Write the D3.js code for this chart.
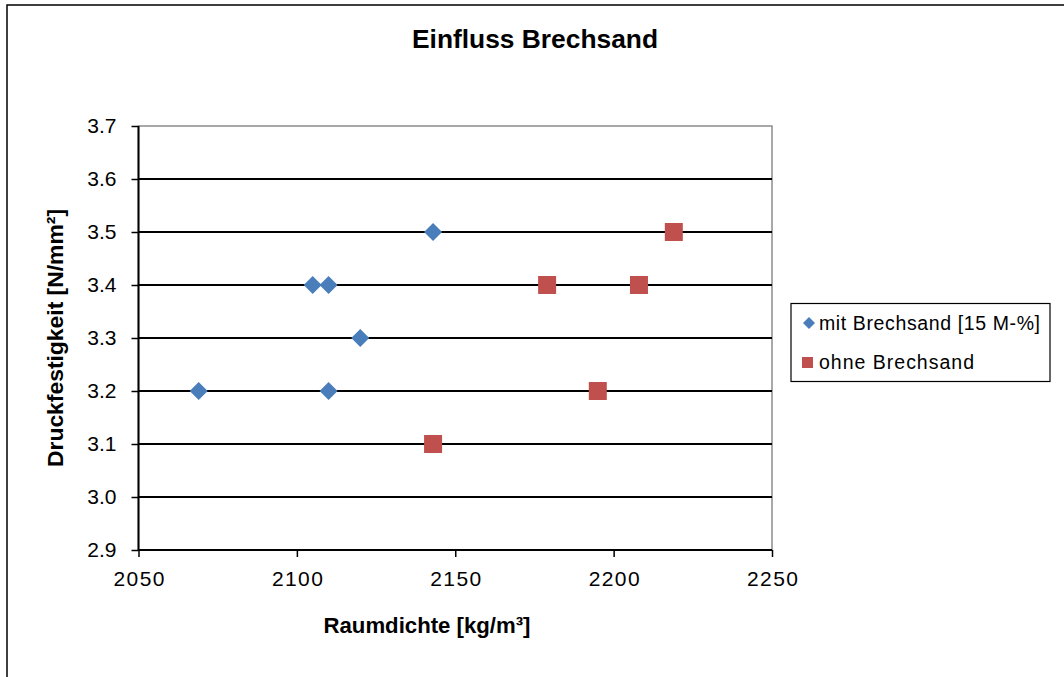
<!DOCTYPE html>
<html><head><meta charset="utf-8">
<script src="https://cdn.jsdelivr.net/npm/d3@7"></script>
<style>body{margin:0;background:#fff}svg{display:block;font-family:"Liberation Sans",Arial,sans-serif}</style>
</head><body>
<svg id="c" width="1064" height="677"></svg>
<script>
const title = "Einfluss Brechsand";
const xTitle = "Raumdichte [kg/m³]";
const yTitle = "Druckfestigkeit [N/mm²]";
const seriesNames = ["mit Brechsand [15 M-%]", "ohne Brechsand"];
const mitX = [2069, 2105, 2110, 2120, 2110, 2143];
const mitY = [3.2, 3.4, 3.4, 3.3, 3.2, 3.5];
const ohneX = [2143, 2179, 2208, 2219, 2195];
const ohneY = [3.1, 3.4, 3.4, 3.5, 3.2];
const xTicks = [2050, 2100, 2150, 2200, 2250];
const yTicks = [2.9, 3.0, 3.1, 3.2, 3.3, 3.4, 3.5, 3.6, 3.7];

const svg = d3.select("#c");
const L = 138.5, R = 772, T = 126, B = 550;
const x = d3.scaleLinear().domain([2050, 2250]).range([L, R]);
const y = d3.scaleLinear().domain([2.9, 3.7]).range([B, T]);
const FF = "Liberation Sans, Arial, sans-serif";

// outer frame
svg.append("rect").attr("x", 7).attr("y", 5).attr("width", 1100).attr("height", 700)
  .attr("fill", "#fff").attr("stroke", "#000").attr("stroke-width", 1.5);

svg.append("text").attr("x", 535).attr("y", 48).attr("text-anchor", "middle")
  .attr("font-weight", "bold").attr("font-size", 25)
  .attr("textLength", 246).attr("lengthAdjust", "spacingAndGlyphs").text(title);

// plot border (gray)
svg.append("rect").attr("x", L).attr("y", T).attr("width", R - L).attr("height", B - T)
  .attr("fill", "none").attr("stroke", "#8c8c8c").attr("stroke-width", 1.5);

// gridlines
svg.append("g").selectAll("line").data(yTicks.slice(1, -1)).join("line")
  .attr("x1", L).attr("x2", R).attr("y1", d => y(d)).attr("y2", d => y(d))
  .attr("stroke", "#000").attr("stroke-width", 1.8);

// y axis
const yAxis = d3.axisLeft(y).tickValues(yTicks).tickFormat(d3.format(".1f")).tickSize(7).tickPadding(15);
const gy = svg.append("g").attr("transform", `translate(${L},0)`).call(yAxis);
gy.select(".domain").attr("stroke-width", 2).attr("d", `M-0,${B}V${T}`);
gy.selectAll(".tick line").attr("stroke-width", 1.5);
gy.selectAll("text").attr("font-size", 21).attr("fill", "#000").attr("font-family", FF);

// x axis
const xAxis = d3.axisBottom(x).tickValues(xTicks).tickFormat(d3.format("d")).tickSize(7).tickPadding(14);
const gx = svg.append("g").attr("transform", `translate(0,${B})`).call(xAxis);
gx.select(".domain").attr("stroke-width", 2).attr("d", `M${L},0H${R}`);
gx.selectAll(".tick line").attr("stroke-width", 1.5);
gx.selectAll("text").attr("font-size", 21).attr("fill", "#000").attr("font-family", FF)
  .attr("textLength", 51).attr("lengthAdjust", "spacing");

// axis titles
svg.append("text").attr("x", 427).attr("y", 633).attr("text-anchor", "middle")
  .attr("font-weight", "bold").attr("font-size", 22)
  .attr("textLength", 207).attr("lengthAdjust", "spacingAndGlyphs").text(xTitle);
svg.append("text").attr("transform", `translate(63,${(T + B) / 2}) rotate(-90)`).attr("text-anchor", "middle")
  .attr("font-weight", "bold").attr("font-size", 22)
  .attr("textLength", 258).attr("lengthAdjust", "spacingAndGlyphs").text(yTitle);

// points
const blue = "#4a7ebb", red = "#c0504d";
const diamond = d3.symbol().type(d3.symbolSquare).size(162);
svg.append("g").selectAll("path").data(d3.zip(mitX, mitY)).join("path")
  .attr("d", diamond).attr("fill", blue)
  .attr("transform", d => `translate(${x(d[0])},${y(d[1])}) rotate(45)`);
svg.append("g").selectAll("rect").data(d3.zip(ohneX, ohneY)).join("rect")
  .attr("x", d => x(d[0]) - 9).attr("y", d => y(d[1]) - 9).attr("width", 18).attr("height", 18)
  .attr("fill", red);

// legend
const lg = svg.append("g");
lg.append("rect").attr("x", 791).attr("y", 303.5).attr("width", 259).attr("height", 78)
  .attr("fill", "#fff").attr("stroke", "#000").attr("stroke-width", 1.2);
lg.append("path").attr("d", d3.symbol().type(d3.symbolSquare).size(72)).attr("fill", blue)
  .attr("transform", "translate(809,323) rotate(45)");
lg.append("rect").attr("x", 802).attr("y", 357).attr("width", 11).attr("height", 11).attr("fill", red);
lg.append("text").attr("x", 819).attr("y", 330).attr("font-size", 19.5)
  .attr("textLength", 221).attr("lengthAdjust", "spacing").text(seriesNames[0]);
lg.append("text").attr("x", 819).attr("y", 369).attr("font-size", 19.5)
  .attr("textLength", 155).attr("lengthAdjust", "spacing").text(seriesNames[1]);
</script>
</body></html>
